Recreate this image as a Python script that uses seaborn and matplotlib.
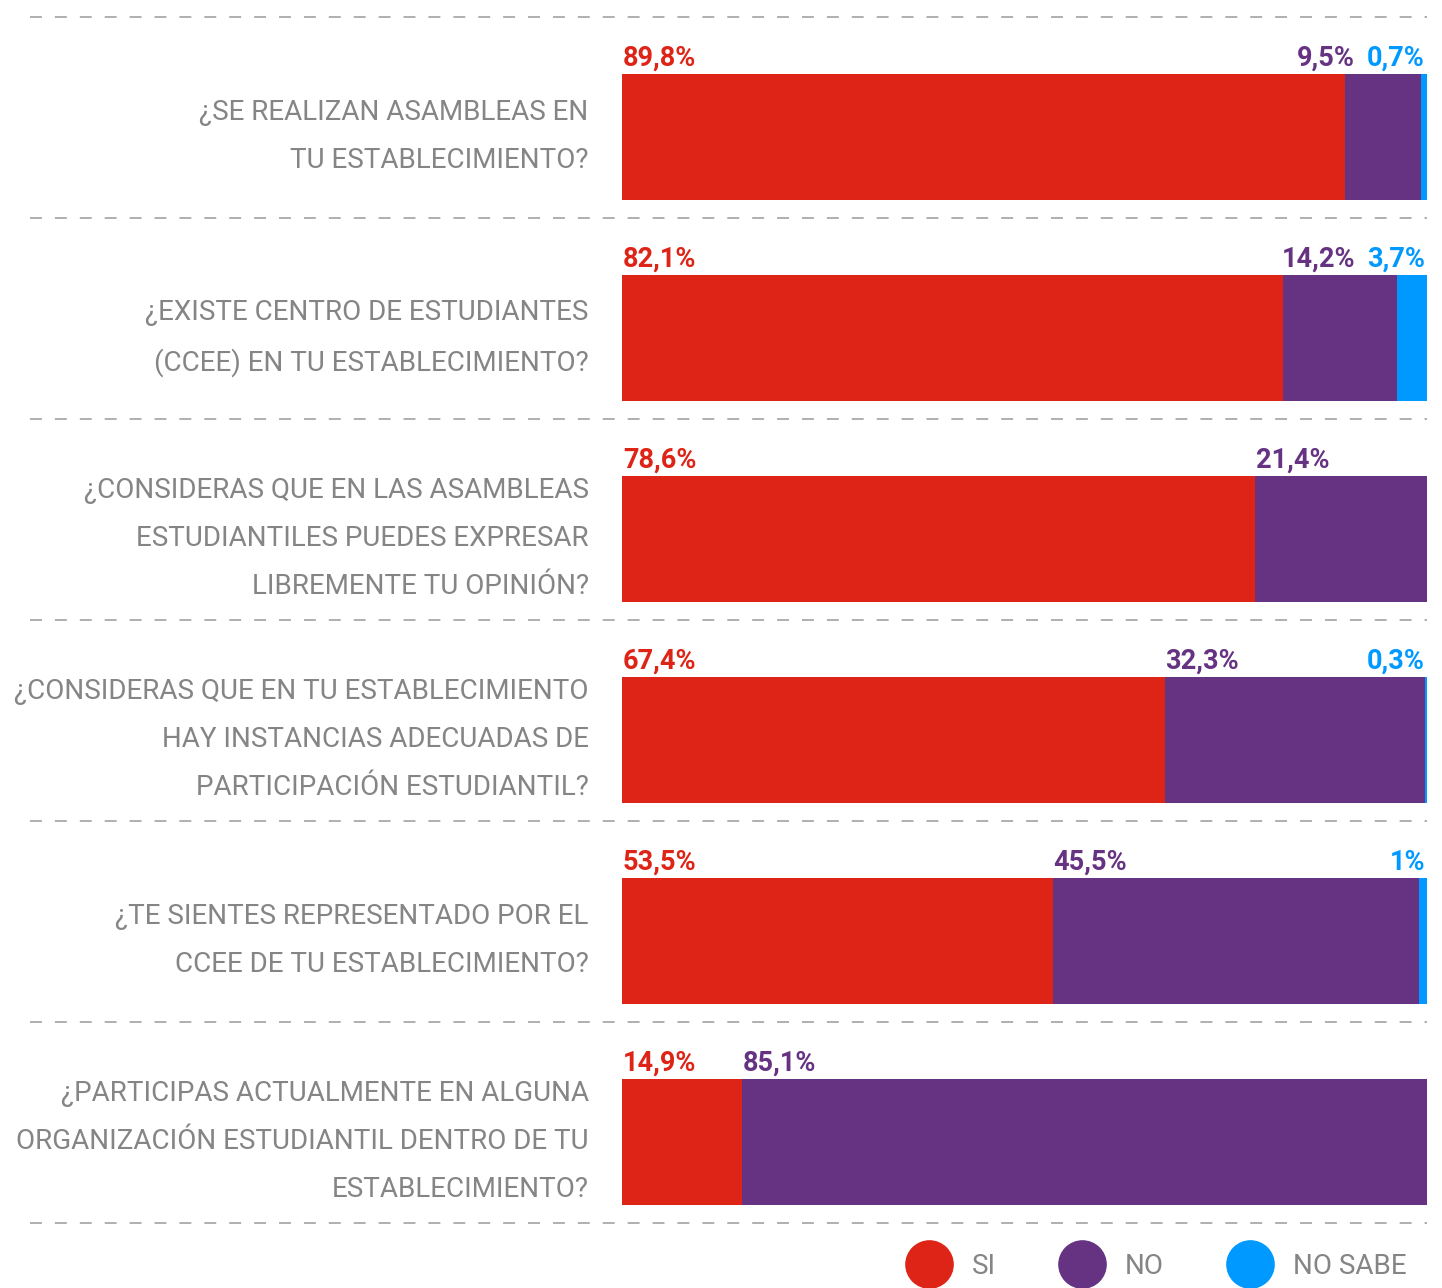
import matplotlib
matplotlib.use("Agg")
import matplotlib.pyplot as plt
from matplotlib.lines import Line2D
import numpy as np
import seaborn as sns

# survey questions (top to bottom)
preguntas = [
    "¿SE REALIZAN ASAMBLEAS EN\nTU ESTABLECIMIENTO?",
    "¿EXISTE CENTRO DE ESTUDIANTES\n(CCEE) EN TU ESTABLECIMIENTO?",
    "¿CONSIDERAS QUE EN LAS ASAMBLEAS\nESTUDIANTILES PUEDES EXPRESAR\nLIBREMENTE TU OPINIÓN?",
    "¿CONSIDERAS QUE EN TU ESTABLECIMIENTO\nHAY INSTANCIAS ADECUADAS DE\nPARTICIPACIÓN ESTUDIANTIL?",
    "¿TE SIENTES REPRESENTADO POR EL\nCCEE DE TU ESTABLECIMIENTO?",
    "¿PARTICIPAS ACTUALMENTE EN ALGUNA\nORGANIZACIÓN ESTUDIANTIL DENTRO DE TU\nESTABLECIMIENTO?",
]
si = [89.8, 82.1, 78.6, 67.4, 53.5, 14.9]
no = [9.5, 14.2, 21.4, 32.3, 45.5, 85.1]
no_sabe = [0.7, 3.7, 0.0, 0.3, 1.0, 0.0]
etiquetas_ns = ["0,7%", "3,7%", "", "0,3%", "1%", ""]

ROJO = "#de2416"
MORADO = "#663382"
AZUL = "#0099ff"
GRIS = "#858585"

plt.rcParams["font.family"] = ["Roboto", "DejaVu Sans"]

fig = plt.figure(figsize=(14.42, 12.88), dpi=100)
ax = fig.add_axes([622 / 1442, 1 - 1223 / 1288, 805 / 1442, 1206 / 1288])

si_arr = np.array(si)
no_arr = np.array(no)
ns_arr = np.array(no_sabe)

bw = 0.627
sns.barplot(x=si_arr + no_arr + ns_arr, y=preguntas, orient="h", color=AZUL,
            width=bw, saturation=1, ax=ax)
sns.barplot(x=si_arr + no_arr, y=preguntas, orient="h", color=MORADO,
            width=bw, saturation=1, ax=ax)
sns.barplot(x=si_arr, y=preguntas, orient="h", color=ROJO,
            width=bw, saturation=1, ax=ax)

ax.set_xlim(0, 100)
ax.set_ylim(5.403, -0.597)
for s in ax.spines.values():
    s.set_visible(False)
ax.set_xticks([])
ax.set_xlabel("")
ax.set_ylabel("")
ax.tick_params(axis="y", length=0, pad=24, labelsize=20, labelcolor=GRIS)
for t in ax.get_yticklabels():
    t.set_fontweight("normal")
    t.set_linespacing(2.0)
    t.set_verticalalignment("center")

# dashed separators
x_left = (30 - 622) / 805 * 100
for yy in np.arange(7) - 0.597:
    ax.plot([x_left, 100], [yy, yy], color="#9a9a9a", lw=1.1,
            ls=(0, (7.8, 8.5)), clip_on=False)

# value labels
vfs = 19.5
for i in range(len(preguntas)):
    top = i - bw / 2
    ax.annotate(f"{si[i]:.1f}%".replace(".", ","), (0, top), xytext=(1, 2),
                textcoords="offset pixels", ha="left", va="bottom",
                color=ROJO, fontsize=vfs, fontweight="bold")
    txt_no = f"{no[i]:.1f}%".replace(".", ",")
    if no[i] < 16:
        ax.annotate(txt_no, (100, top), xytext=(-72, 2),
                    textcoords="offset pixels", ha="right", va="bottom",
                    color=MORADO, fontsize=vfs, fontweight="bold")
    else:
        ax.annotate(txt_no, (si[i], top), xytext=(1, 2),
                    textcoords="offset pixels", ha="left", va="bottom",
                    color=MORADO, fontsize=vfs, fontweight="bold")
    if etiquetas_ns[i]:
        ax.annotate(etiquetas_ns[i], (100, top), xytext=(-2, 2),
                    textcoords="offset pixels", ha="right", va="bottom",
                    color=AZUL, fontsize=vfs, fontweight="bold")

# legend
handles = [Line2D([], [], ls="", marker="o", markersize=34, color=c)
           for c in (ROJO, MORADO, AZUL)]
leg = fig.legend(handles, ["SI", "NO", "NO SABE"], ncol=3, frameon=False,
                 loc="center right", bbox_to_anchor=(1418 / 1442, 1 - 1266 / 1288),
                 fontsize=20, labelcolor=GRIS, handletextpad=0.75,
                 columnspacing=2.3, handlelength=1.6, borderaxespad=0)

fig.savefig("out.png", dpi=100)
